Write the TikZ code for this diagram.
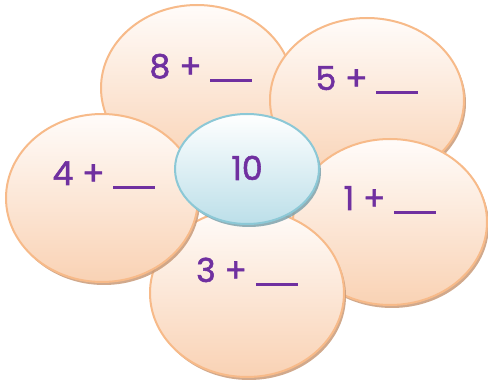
\documentclass[tikz,border=0pt]{standalone}
\usepackage{fontspec}
\setmainfont{Poppins}[FakeBold=1.6]
\usepackage{xcolor}
\usepackage{tikz}
\usetikzlibrary{positioning,shapes.geometric,shadows}
\definecolor{peachline}{HTML}{F7BA89}
\definecolor{peachtop}{HTML}{FFFCFA}
\definecolor{peachbottom}{HTML}{F9D2B4}
\definecolor{peachshade}{HTML}{C99A78}
\definecolor{iceline}{HTML}{8CC8D6}
\definecolor{icebottom}{HTML}{BCDFE9}
\definecolor{iceshade}{HTML}{7FA3AD}
\definecolor{sumpurple}{HTML}{7030A0}
\newcommand{\blank}{\rule[-4pt]{42pt}{2.8pt}}

\begin{document}
\begin{tikzpicture}[x=1pt, y=-1pt,
    petal/.style={ellipse, draw=peachline, line width=2pt, top color=peachtop,
                  bottom color=peachbottom, inner sep=0pt,
                  minimum width=192pt, minimum height=166pt,
                  drop shadow={shadow xshift=2pt, shadow yshift=-3pt, fill=peachshade, opacity=0.85}},
    hub/.style={ellipse, draw=iceline, line width=2pt, top color=white,
                bottom color=icebottom, inner sep=0pt,
                minimum width=144pt, minimum height=110pt,
                drop shadow={shadow xshift=2pt, shadow yshift=-3pt, fill=iceshade, opacity=0.85}},
    sumtext/.style={anchor=base, text=sumpurple, font=\fontsize{33}{40}\selectfont}
]
    \useasboundingbox (0,0) rectangle (488,387);
    % petals, back to front
    \node[petal] (p8) at (197,88) {};
    \node[petal, minimum width=194pt, minimum height=164pt] (p5) at (367,100) {};
    \node[petal, minimum width=194pt] (p1) at (390,222) {};
    \node[petal, minimum width=194pt, minimum height=168pt] (p3) at (247,293) {};
    \node[petal, minimum height=168pt] (p4) at (102,198) {};
    \node[hub] (c10) at (247,169) {};
    % sums
    \node[sumtext] (s8) at ([xshift=4pt, yshift=10pt]p8.center) {8 + \blank};
    \node[sumtext] (s5) at ([yshift=10pt]p5.center) {5 + \blank};
    \node[sumtext] (s4) at ([xshift=2pt, yshift=13pt]p4.center) {4 + \blank};
    \node[sumtext] (s1) at ([yshift=12pt]p1.center) {1 + \blank};
    \node[sumtext] (s3) at ([yshift=11pt]p3.center) {3 + \blank};
    \node[sumtext] (s10) at ([yshift=-11pt]c10.center) {10};
\end{tikzpicture}
\end{document}
